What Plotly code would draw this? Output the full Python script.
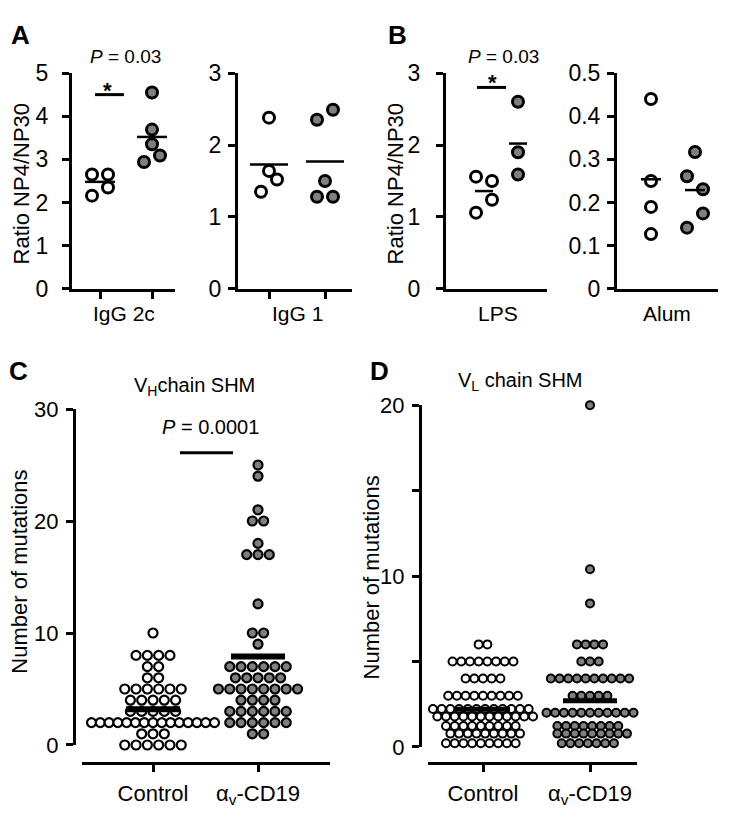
import plotly.graph_objects as go

W, H = 733, 819
FONT = "Liberation Sans, Arial, Helvetica, sans-serif"
GRAY = "#7f7f7f"
BLACK = "#000000"

# ---------------- data ----------------
# Panel A: ratio NP4/NP30
igg2c_ctrl = [2.16, 2.35, 2.65, 2.65]
igg2c_trt = [2.94, 3.09, 3.35, 3.69, 4.55]
igg1_ctrl = [1.35, 1.52, 1.64, 2.38]
igg1_trt = [1.28, 1.28, 1.50, 2.35, 2.49]
mean_igg2c = [2.48, 3.52]
mean_igg1 = [1.73, 1.77]
# Panel B
lps_ctrl = [1.06, 1.24, 1.50, 1.56]
lps_trt = [1.59, 1.90, 2.60]
alum_ctrl = [0.127, 0.190, 0.250, 0.440]
alum_trt = [0.142, 0.175, 0.231, 0.261, 0.317]
mean_lps = [1.36, 2.02]
mean_alum = [0.254, 0.229]
# Panel C: VH chain mutations (value -> number of clones)
vh_ctrl_values = [0, 1, 2, 3, 4, 5, 6, 7, 8, 10]
vh_ctrl_counts = [6, 3, 15, 5, 5, 6, 2, 2, 4, 1]
vh_trt_values = [1, 2, 3, 4, 5, 6, 7, 9, 10, 12.6, 17, 18, 20, 21, 24, 25]
vh_trt_counts = [2, 6, 6, 4, 8, 5, 6, 1, 2, 1, 3, 1, 2, 1, 1, 1]
mean_vh = [3.2, 7.9]
# Panel D: VL chain mutations
vl_ctrl_values = [0, 1, 2, 3, 4, 5, 6]
vl_ctrl_counts = [19, 18, 24, 9, 5, 8, 2]
vl_trt_values = [0, 1, 2, 3, 4, 5, 6, 8.4, 10.4, 20]
vl_trt_counts = [14, 17, 11, 5, 10, 3, 4, 1, 1, 1]
mean_vl = [2.2, 2.7]

groups_cd = ["Control", "α<sub>v</sub>-CD19"]
sub_a = ["IgG 2c", "IgG 1"]
sub_b = ["LPS", "Alum"]


def fx(px):
    return px / W


def fy(py):
    return 1 - py / H


fig = go.Figure()


def xrange_for(dom, c1, c2):
    ppu = c2 - c1
    return [1 - (c1 - dom[0]) / ppu, 2 + (dom[1] - c2) / ppu], ppu


def pair_swarm(vals, ppu_y, ppu_x, thresh=15, sep=16):
    """Prism-like layout: close neighbours are paired side by side, alternating sides."""
    order = sorted(range(len(vals)), key=lambda i: vals[i])
    off = [0.0] * len(vals)
    k = 0
    npair = 0
    while k < len(order):
        i = order[k]
        if k + 1 < len(order):
            j = order[k + 1]
            if (vals[j] - vals[i]) * ppu_y < thresh:
                sgn = -1 if npair % 2 == 0 else 1
                off[i] = sgn * sep / 2 / ppu_x
                off[j] = -sgn * sep / 2 / ppu_x
                if vals[j] != vals[i]:
                    npair += 1
                k += 2
                continue
        k += 1
    return off


def row_swarm(values, counts, ppu_x, s_px, max_w, split_n, sub_dy):
    xs, ys = [], []
    for v, n in zip(values, counts):
        rows = [(n, 0.0, 0.0)]
        if n > split_n:
            top = n // 2
            rows = [(top, sub_dy, -0.25), (n - top, -sub_dy, 0.25)]
        for m, dy, st in rows:
            s = s_px if m <= 1 else min(s_px, max_w / (m - 1))
            for i in range(m):
                xs.append(((i - (m - 1) / 2) + st) * s / ppu_x)
                ys.append(v + dy)
    return xs, ys


def yax(dom, rng, tv, tt, anchor=None, position=None, standoff=4, size=22, minor=None):
    d = dict(domain=[fy(dom[0]), fy(dom[1])], range=rng, tickvals=tv, ticktext=tt,
             ticks="outside", ticklen=7, tickwidth=3, tickcolor=BLACK,
             showline=True, linewidth=3, linecolor=BLACK, showgrid=False, zeroline=False,
             tickfont=dict(family=FONT, size=size, color=BLACK),
             ticklabelstandoff=standoff, fixedrange=True)
    if minor is not None:
        d["minor"] = dict(tickvals=minor, ticks="outside", ticklen=7, tickwidth=3,
                          tickcolor=BLACK, showgrid=False)
    if position is None:
        d["anchor"] = anchor
    else:
        d["anchor"] = "free"
        d["position"] = position
    return d


def xax(dom, rng, tv, tt, ticks, anchor=None, position=None, show_labels=False, standoff=2):
    d = dict(domain=[fx(dom[0]), fx(dom[1])], range=rng, tickvals=tv,
             ticks=ticks, ticklen=7, tickwidth=3, tickcolor=BLACK,
             showline=True, linewidth=3, linecolor=BLACK, showgrid=False, zeroline=False,
             showticklabels=show_labels,
             tickfont=dict(family=FONT, size=22, color=BLACK),
             ticklabelstandoff=standoff, fixedrange=True)
    if tt is not None:
        d["ticktext"] = tt
    if position is None:
        d["anchor"] = anchor
    else:
        d["anchor"] = "free"
        d["position"] = position
    return d


layout_axes = {}

# ---------- panels A/B ----------
ab_panels = [
    # idx, xdom, centers, yrange, ticks, ctrl, trt, means, x ticks, mean half width px, standoff
    (1, (72, 175), (100, 152), [0, 5], [0, 1, 2, 3, 4, 5], ["0", "1", "2", "3", "4", "5"],
     igg2c_ctrl, igg2c_trt, mean_igg2c, True, 15, 9),
    (2, (238, 352), (269, 325), [0, 3], [0, 1, 2, 3], ["0", "1", "2", "3"],
     igg1_ctrl, igg1_trt, mean_igg1, True, 19, 2),
    (3, (446, 547), (484, 518), [0, 3], [0, 1, 2, 3], ["0", "1", "2", "3"],
     lps_ctrl, lps_trt, mean_lps, False, 9, 11),
    (4, (617, 718), (651, 695), [0, 0.5], [0, 0.1, 0.2, 0.3, 0.4, 0.5],
     ["0", "0.1", "0.2", "0.3", "0.4", "0.5"],
     alum_ctrl, alum_trt, mean_alum, False, 10, 2),
]
Y_TOP, Y_BOT = 62, 285
for idx, xdom, cen, yr, tv, tt, ctrl, trt, means, xt, hw, so in ab_panels:
    rng, ppux = xrange_for(xdom, cen[0], cen[1])
    ppuy = (Y_BOT - Y_TOP) / (yr[1] - yr[0])
    sfx = "" if idx == 1 else str(idx)
    layout_axes["xaxis" + sfx] = xax(xdom, rng, [1, 2] if xt else [], None,
                                     "outside" if xt else "", anchor="y" + sfx)
    layout_axes["yaxis" + sfx] = yax((Y_BOT, Y_TOP), yr, tv, tt, anchor="x" + sfx,
                                     standoff=so, size=23)
    for g, (vals, fill) in enumerate([(ctrl, "white"), (trt, GRAY)]):
        off = pair_swarm(vals, ppuy, ppux)
        fig.add_trace(go.Scatter(
            x=[g + 1 + o for o in off], y=vals, mode="markers", cliponaxis=False,
            xaxis="x" + sfx, yaxis="y" + sfx,
            marker=dict(size=11, color=fill, line=dict(color=BLACK, width=3))))
    mx, my = [], []
    for g, m in enumerate(means):
        mx += [g + 1 - hw / ppux, g + 1 + hw / ppux, None]
        my += [m, m, None]
    fig.add_trace(go.Scatter(x=mx, y=my, mode="lines", cliponaxis=False,
                             xaxis="x" + sfx, yaxis="y" + sfx,
                             line=dict(color=BLACK, width=2.5)))

# ---------- panels C/D ----------
cd_panels = [
    (5, (82, 330), (153, 258), (756, 409), [0, 30], [0, 10, 20, 30], ["0", "10", "20", "30"], None, 74,
     vh_ctrl_values, vh_ctrl_counts, vh_trt_values, vh_trt_counts, mean_vh,
     dict(s_px=11.3, max_w=123, split_n=99, sub_dy=0.0), 9, 2.2, 6),
    (6, (428, 637), (483, 590), (758, 405), [0, 20], [0, 10, 20], ["0", "10", "20"], [5, 15], 420,
     vl_ctrl_values, vl_ctrl_counts, vl_trt_values, vl_trt_counts, mean_vl,
     dict(s_px=8.7, max_w=200, split_n=11, sub_dy=0.22), 8, 2, 5),
]
X_AXIS_Y = 775
for (idx, xdom, cen, ydom, yr, tv, tt, minor, ypos, cv, cc, tvv, tcc, means, sw,
     msize, mlw, barw) in cd_panels:
    rng, ppux = xrange_for(xdom, cen[0], cen[1])
    sfx = str(idx)
    layout_axes["xaxis" + sfx] = xax(xdom, rng, [1, 2], groups_cd, "outside",
                                     position=fy(X_AXIS_Y), show_labels=True)
    layout_axes["yaxis" + sfx] = yax(ydom, yr, tv, tt, position=fx(ypos), standoff=3,
                                     minor=minor)
    for g, (vals, cnts, fill) in enumerate([(cv, cc, "white"), (tvv, tcc, GRAY)]):
        xs, ys = row_swarm(vals, cnts, ppux, **sw)
        fig.add_trace(go.Scatter(
            x=[g + 1 + x for x in xs], y=ys, mode="markers", cliponaxis=False,
            xaxis="x" + sfx, yaxis="y" + sfx,
            marker=dict(size=msize, color=fill, line=dict(color=BLACK, width=mlw))))
    mx, my = [], []
    for g, m in enumerate(means):
        mx += [g + 1 - 27 / ppux, g + 1 + 27 / ppux, None]
        my += [m, m, None]
    fig.add_trace(go.Scatter(x=mx, y=my, mode="lines", cliponaxis=False,
                             xaxis="x" + sfx, yaxis="y" + sfx,
                             line=dict(color=BLACK, width=barw)))

# ---------- significance bars ----------
shapes = []
sig_bars = [("x", "y", 0.904, 1.46, 4.5), ("x3", "y3", 0.794, 1.647, 2.80),
            ("x5", "y5", 1.257, 1.762, 26.1)]
for xr, yr_, x0, x1, yv in sig_bars:
    shapes.append(dict(type="line", xref=xr, yref=yr_, x0=x0, x1=x1, y0=yv, y1=yv,
                       line=dict(color=BLACK, width=3)))

# ---------- text ----------
anns = []


def ann(text, x, y, size, angle=0, bold=False):
    anns.append(dict(text=("<b>%s</b>" % text) if bold else text, x=fx(x), y=fy(y),
                     xref="paper", yref="paper", showarrow=False, textangle=angle,
                     xanchor="center", yanchor="middle",
                     font=dict(family=FONT, size=size, color=BLACK)))


ann("A", 20, 23, 26, bold=True)
ann("B", 397, 23, 26, bold=True)
ann("C", 18, 370, 26, bold=True)
ann("D", 379, 370, 26, bold=True)
ann("<i>P</i> = 0.03", 125, 45, 19)
ann("<i>P</i> = 0.03", 503, 45, 19)
ann("*", 107, 80, 22, bold=True)
ann("*", 492, 72, 22, bold=True)
ann(sub_a[0], 124, 310, 21)
ann(sub_a[1], 297, 310, 21)
ann(sub_b[0], 498, 310, 21)
ann(sub_b[1], 667, 310, 21)
ann("Ratio NP4/NP30", 21, 177, 22, angle=-90)
ann("Ratio NP4/NP30", 395, 177, 22, angle=-90)
ann("V<sub>H</sub>chain SHM", 194, 386, 20)
ann("V<sub>L</sub> chain SHM", 520, 381, 20)
ann("<i>P</i> = 0.0001", 210, 428, 20)
ann("Number of mutations", 20, 577, 22, angle=-90)
ann("Number of mutations", 371, 583, 22, angle=-90)

fig.update_layout(
    width=W, height=H, autosize=False,
    margin=dict(l=0, r=0, t=0, b=0, pad=0),
    paper_bgcolor="white", plot_bgcolor="rgba(0,0,0,0)",
    showlegend=False, hovermode=False,
    font=dict(family=FONT, color=BLACK),
    shapes=shapes, annotations=anns,
    **layout_axes,
)

fig.write_html("out.html", include_plotlyjs=True, config={"displayModeBar": False},
               post_script="document.body.style.margin='0';document.body.style.overflow='hidden';")
